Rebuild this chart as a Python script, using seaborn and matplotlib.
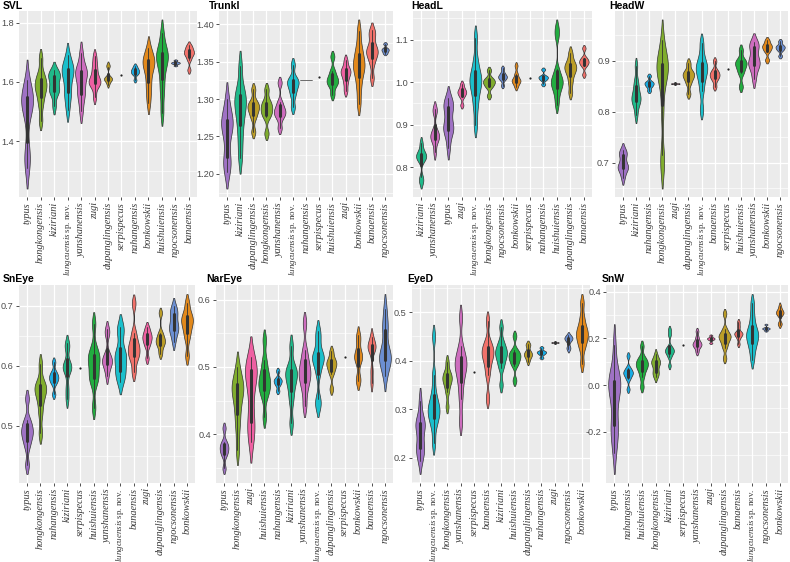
import numpy as np
import pandas as pd
import seaborn as sns
import matplotlib.pyplot as plt
from matplotlib.ticker import FixedLocator

# species colours (one per species, same in every panel)
colors = {
    'banaensis': '#F2726B', 'bonkowskii': '#E2891C', 'dupanglingensis': '#BC9E28',
    'hongkongensis': '#80AD2E', 'huishuiensis': '#22AD40', 'kiziriani': '#20B98A',
    'lungcuensis sp. nov.': '#1BBFCB', 'nahangensis': '#19AEE6', 'ngocsonensis': '#6C8FD2',
    'serpispecus': '#9E8BE0', 'typus': '#9F72C4', 'yanshanensis': '#CD6DBE', 'zugi': '#EE60A2',
}

# measurements per trait, species in the plotted order
svl = {
    'typus': [1.31, 1.345, 1.365, 1.49, 1.52, 1.53, 1.54, 1.55, 1.56, 1.605],
    'hongkongensis': [1.468, 1.52, 1.55, 1.57, 1.585, 1.595, 1.61, 1.63, 1.68],
    'kiziriani': [1.518, 1.565, 1.57, 1.58, 1.61, 1.62, 1.625, 1.64],
    'lungcuensis sp. nov.': [1.506, 1.55, 1.565, 1.60, 1.625, 1.64, 1.645, 1.655, 1.691],
    'yanshanensis': [1.50, 1.55, 1.56, 1.59, 1.62, 1.63, 1.635, 1.65, 1.697],
    'zugi': [1.548, 1.585, 1.595, 1.60, 1.605, 1.62, 1.64, 1.66, 1.687],
    'dupanglingensis': [1.591, 1.603, 1.607, 1.61, 1.613, 1.618, 1.65, 1.658],
    'serpispecus': [1.624],
    'nahangensis': [1.606, 1.625, 1.63, 1.635, 1.64, 1.645, 1.654],
    'bonkowskii': [1.53, 1.57, 1.60, 1.635, 1.655, 1.665, 1.675, 1.685, 1.715],
    'huishuiensis': [1.496, 1.56, 1.60, 1.64, 1.665, 1.68, 1.69, 1.70, 1.72, 1.766],
    'ngocsonensis': [1.655, 1.661, 1.663, 1.665, 1.667, 1.673],
    'banaensis': [1.64, 1.675, 1.688, 1.695, 1.70, 1.706, 1.715, 1.724],
}
trunkl = {
    'typus': [1.203, 1.215, 1.222, 1.25, 1.262, 1.267, 1.272, 1.28, 1.30],
    'kiziriani': [1.221, 1.245, 1.265, 1.28, 1.29, 1.298, 1.305, 1.315, 1.344],
    'dupanglingensis': [1.256, 1.275, 1.283, 1.288, 1.292, 1.297, 1.313],
    'hongkongensis': [1.254, 1.276, 1.282, 1.287, 1.292, 1.298, 1.313],
    'yanshanensis': [1.261, 1.275, 1.28, 1.284, 1.288, 1.296, 1.322],
    'lungcuensis sp. nov.': [1.289, 1.305, 1.314, 1.32, 1.324, 1.328, 1.346],
    'nahangensis': [1.325, 1.325],
    'serpispecus': [1.329],
    'huishuiensis': [1.306, 1.318, 1.322, 1.326, 1.33, 1.338, 1.357],
    'zugi': [1.311, 1.322, 1.33, 1.335, 1.338, 1.342, 1.352],
    'bonkowskii': [1.294, 1.315, 1.33, 1.34, 1.345, 1.35, 1.36, 1.37, 1.391],
    'banaensis': [1.328, 1.348, 1.358, 1.362, 1.366, 1.372, 1.385, 1.392],
    'ngocsonensis': [1.361, 1.364, 1.366, 1.368, 1.374],
}
headl = {
    'kiziriani': [0.764, 0.776, 0.815, 0.822, 0.826, 0.83, 0.838, 0.857],
    'yanshanensis': [0.835, 0.86, 0.868, 0.873, 0.878, 0.888, 0.93, 0.938],
    'typus': [0.845, 0.88, 0.888, 0.895, 0.905, 0.935, 0.942, 0.95, 0.964],
    'zugi': [0.946, 0.965, 0.972, 0.976, 0.98, 0.986, 0.996],
    'lungcuensis sp. nov.': [0.899, 0.94, 0.965, 0.985, 0.998, 1.005, 1.015, 1.03, 1.055, 1.105],
    'hongkongensis': [0.968, 0.988, 0.995, 1.0, 1.004, 1.01, 1.028],
    'ngocsonensis': [0.992, 1.005, 1.01, 1.013, 1.016, 1.022, 1.033],
    'bonkowskii': [0.989, 0.998, 1.002, 1.005, 1.01, 1.02, 1.039],
    'serpispecus': [1.01],
    'nahangensis': [0.995, 1.005, 1.009, 1.012, 1.015, 1.03],
    'huishuiensis': [0.947, 0.97, 0.985, 0.995, 1.0, 1.005, 1.015, 1.03, 1.108, 1.128],
    'dupanglingensis': [0.975, 1.0, 1.018, 1.028, 1.035, 1.04, 1.05, 1.069],
    'banaensis': [1.018, 1.038, 1.044, 1.048, 1.052, 1.058, 1.08],
}
headw = {
    'typus': [0.67, 0.685, 0.69, 0.693, 0.697, 0.714, 0.718, 0.725],
    'kiziriani': [0.793, 0.812, 0.82, 0.825, 0.83, 0.838, 0.85, 0.862, 0.89],
    'nahangensis': [0.841, 0.849, 0.853, 0.856, 0.859, 0.87],
    'hongkongensis': [0.69, 0.715, 0.80, 0.855, 0.875, 0.885, 0.89, 0.895, 0.905, 0.94],
    'zugi': [0.8545, 0.855, 0.8555],
    'dupanglingensis': [0.835, 0.855, 0.865, 0.87, 0.875, 0.88, 0.895],
    'lungcuensis sp. nov.': [0.803, 0.84, 0.86, 0.872, 0.882, 0.888, 0.895, 0.91, 0.935],
    'banaensis': [0.849, 0.862, 0.868, 0.872, 0.876, 0.882, 0.899],
    'serpispecus': [0.883],
    'huishuiensis': [0.849, 0.875, 0.885, 0.892, 0.897, 0.902, 0.921],
    'yanshanensis': [0.864, 0.885, 0.893, 0.898, 0.903, 0.925, 0.93, 0.936],
    'bonkowskii': [0.901, 0.918, 0.924, 0.928, 0.932, 0.94],
    'ngocsonensis': [0.909, 0.92, 0.924, 0.927, 0.93, 0.938],
}
sneye = {
    'typus': [0.434, 0.465, 0.478, 0.486, 0.492, 0.50, 0.51, 0.545],
    'hongkongensis': [0.487, 0.52, 0.54, 0.553, 0.56, 0.566, 0.572, 0.602],
    'nahangensis': [0.552, 0.57, 0.576, 0.58, 0.584, 0.59, 0.606],
    'kiziriani': [0.544, 0.563, 0.59, 0.596, 0.60, 0.604, 0.63, 0.637],
    'serpispecus': [0.596],
    'huishuiensis': [0.53, 0.572, 0.58, 0.59, 0.605, 0.612, 0.617, 0.63, 0.67],
    'yanshanensis': [0.583, 0.598, 0.604, 0.608, 0.612, 0.62, 0.652, 0.661],
    'lungcuensis sp. nov.': [0.573, 0.588, 0.592, 0.612, 0.618, 0.622, 0.655, 0.665],
    'banaensis': [0.589, 0.61, 0.618, 0.625, 0.632, 0.64, 0.655, 0.704],
    'zugi': [0.612, 0.632, 0.64, 0.645, 0.65, 0.655, 0.664],
    'dupanglingensis': [0.62, 0.632, 0.638, 0.642, 0.647, 0.655, 0.688],
    'ngocsonensis': [0.64, 0.655, 0.66, 0.665, 0.672, 0.685, 0.69, 0.699],
    'bonkowskii': [0.616, 0.645, 0.658, 0.668, 0.675, 0.68, 0.688, 0.705],
}
nareye = {
    'typus': [0.349, 0.368, 0.374, 0.379, 0.383, 0.389, 0.409],
    'hongkongensis': [0.377, 0.41, 0.43, 0.448, 0.46, 0.468, 0.474, 0.48, 0.50],
    'zugi': [0.389, 0.41, 0.418, 0.45, 0.478, 0.488, 0.495, 0.50, 0.514],
    'huishuiensis': [0.425, 0.455, 0.465, 0.472, 0.478, 0.485, 0.495, 0.51, 0.54],
    'nahangensis': [0.464, 0.473, 0.477, 0.48, 0.483, 0.494],
    'kiziriani': [0.416, 0.45, 0.468, 0.48, 0.488, 0.494, 0.50, 0.531],
    'yanshanensis': [0.442, 0.465, 0.478, 0.486, 0.492, 0.50, 0.51, 0.525, 0.565],
    'lungcuensis sp. nov.': [0.441, 0.452, 0.49, 0.505, 0.512, 0.516, 0.52, 0.54, 0.554],
    'dupanglingensis': [0.467, 0.49, 0.498, 0.503, 0.507, 0.512, 0.523],
    'serpispecus': [0.514],
    'bonkowskii': [0.479, 0.482, 0.508, 0.513, 0.517, 0.522, 0.54, 0.547],
    'banaensis': [0.476, 0.495, 0.524, 0.528, 0.531, 0.534, 0.545],
    'ngocsonensis': [0.486, 0.505, 0.51, 0.514, 0.518, 0.525, 0.555, 0.562, 0.586],
}
eyed = {
    'typus': [0.193, 0.212, 0.22, 0.228, 0.258, 0.266, 0.272, 0.278, 0.317],
    'lungcuensis sp. nov.': [0.23, 0.265, 0.28, 0.29, 0.298, 0.305, 0.315, 0.335, 0.37, 0.45],
    'hongkongensis': [0.305, 0.335, 0.35, 0.358, 0.364, 0.37, 0.378, 0.398],
    'yanshanensis': [0.273, 0.32, 0.35, 0.37, 0.385, 0.392, 0.40, 0.41, 0.43, 0.489],
    'serpispecus': [0.377],
    'banaensis': [0.322, 0.37, 0.39, 0.405, 0.413, 0.42, 0.428, 0.44, 0.482],
    'kiziriani': [0.35, 0.385, 0.398, 0.408, 0.415, 0.42, 0.428, 0.44, 0.47],
    'huishuiensis': [0.359, 0.39, 0.398, 0.405, 0.41, 0.415, 0.422, 0.451],
    'dupanglingensis': [0.398, 0.406, 0.41, 0.413, 0.416, 0.42, 0.432, 0.434],
    'nahangensis': [0.406, 0.413, 0.416, 0.418, 0.42, 0.427],
    'zugi': [0.4372, 0.4375, 0.4378],
    'ngocsonensis': [0.424, 0.428, 0.441, 0.444, 0.446, 0.449, 0.452],
    'bonkowskii': [0.394, 0.425, 0.438, 0.448, 0.455, 0.462, 0.472, 0.49, 0.52],
}
snw = {
    'typus': [-0.29, -0.21, -0.185, -0.16, -0.06, -0.02, 0.0, 0.01, 0.025, 0.05, 0.17],
    'nahangensis': [-0.018, 0.025, 0.04, 0.048, 0.055, 0.062, 0.075, 0.125],
    'huishuiensis': [-0.008, 0.035, 0.06, 0.075, 0.085, 0.095, 0.105, 0.12, 0.167],
    'hongkongensis': [0.035, 0.05, 0.06, 0.085, 0.095, 0.10, 0.108, 0.131],
    'kiziriani': [0.083, 0.12, 0.135, 0.142, 0.148, 0.155, 0.165, 0.215, 0.238],
    'serpispecus': [0.172],
    'yanshanensis': [0.141, 0.16, 0.168, 0.174, 0.18, 0.188, 0.205, 0.231],
    'zugi': [0.18, 0.193, 0.197, 0.20, 0.203, 0.212],
    'dupanglingensis': [0.114, 0.16, 0.18, 0.195, 0.205, 0.212, 0.22, 0.24, 0.305],
    'banaensis': [0.175, 0.20, 0.212, 0.218, 0.222, 0.228, 0.25, 0.27],
    'lungcuensis sp. nov.': [0.108, 0.15, 0.175, 0.195, 0.21, 0.22, 0.235, 0.26, 0.30, 0.352],
    'ngocsonensis': [0.232, 0.238, 0.241, 0.243, 0.246, 0.259],
    'bonkowskii': [0.259, 0.265, 0.298, 0.305, 0.31, 0.315, 0.322, 0.339],
}

traits = ['SVL', 'Trunkl', 'HeadL', 'HeadW', 'SnEye', 'NarEye', 'EyeD', 'SnW']
trait_data = [svl, trunkl, headl, headw, sneye, nareye, eyed, snw]
yticks = [
    ['1.4', '1.6', '1.8'],
    ['1.20', '1.25', '1.30', '1.35', '1.40'],
    ['0.8', '0.9', '1.0', '1.1'],
    ['0.7', '0.8', '0.9'],
    ['0.5', '0.6', '0.7'],
    ['0.4', '0.5', '0.6'],
    ['0.2', '0.3', '0.4', '0.5'],
    ['-0.2', '0.0', '0.2', '0.4'],
]

# narrower violins (fraction of the category slot)
widths = {
    ('SVL', 'dupanglingensis'): 0.6, ('SVL', 'nahangensis'): 0.6,
    ('SVL', 'ngocsonensis'): 0.65, ('SVL', 'banaensis'): 0.75,
    ('Trunkl', 'ngocsonensis'): 0.55, ('Trunkl', 'zugi'): 0.75,
    ('HeadL', 'zugi'): 0.65, ('HeadL', 'ngocsonensis'): 0.65, ('HeadL', 'bonkowskii'): 0.65,
    ('HeadL', 'nahangensis'): 0.7, ('HeadL', 'banaensis'): 0.7, ('HeadL', 'kiziriani'): 0.75,
    ('HeadL', 'yanshanensis'): 0.65, ('HeadL', 'typus'): 0.75,
    ('HeadW', 'typus'): 0.8, ('HeadW', 'nahangensis'): 0.7, ('HeadW', 'zugi'): 0.65,
    ('HeadW', 'banaensis'): 0.75, ('HeadW', 'ngocsonensis'): 0.7, ('HeadW', 'bonkowskii'): 0.75,
    ('HeadW', 'kiziriani'): 0.7,
    ('SnEye', 'nahangensis'): 0.7, ('SnEye', 'kiziriani'): 0.65, ('SnEye', 'zugi'): 0.7,
    ('SnEye', 'dupanglingensis'): 0.7, ('SnEye', 'ngocsonensis'): 0.7, ('SnEye', 'yanshanensis'): 0.75,
    ('NarEye', 'typus'): 0.65, ('NarEye', 'nahangensis'): 0.6, ('NarEye', 'dupanglingensis'): 0.75,
    ('NarEye', 'bonkowskii'): 0.6, ('NarEye', 'banaensis'): 0.6,
    ('EyeD', 'typus'): 0.7, ('EyeD', 'dupanglingensis'): 0.6, ('EyeD', 'nahangensis'): 0.7,
    ('EyeD', 'zugi'): 0.55, ('EyeD', 'ngocsonensis'): 0.6, ('EyeD', 'hongkongensis'): 0.7,
    ('SnW', 'nahangensis'): 0.7, ('SnW', 'hongkongensis'): 0.65, ('SnW', 'kiziriani'): 0.65,
    ('SnW', 'yanshanensis'): 0.65, ('SnW', 'zugi'): 0.55, ('SnW', 'banaensis'): 0.6,
    ('SnW', 'ngocsonensis'): 0.55, ('SnW', 'bonkowskii'): 0.55,
}


def nrd0(kde):
    # R's bw.nrd0 rule, as a factor of the sample sd
    x = kde.dataset[0]
    sd = np.std(x, ddof=1)
    if sd == 0:
        return 1.0
    q75, q25 = np.percentile(x, [75, 25])
    lo = min(sd, (q75 - q25) / 1.34)
    if lo == 0:
        lo = sd
    return 0.9 * lo * len(x) ** -0.2 / sd


sns.set_theme(style='white')
plt.rcParams['font.family'] = ['Liberation Sans', 'DejaVu Sans']
plt.rcParams['mathtext.fontset'] = 'custom'
plt.rcParams['mathtext.it'] = 'Liberation Serif:italic'
plt.rcParams['mathtext.rm'] = 'Liberation Serif'

W, H = 790, 562
fig = plt.figure(figsize=(7.9, 5.62), dpi=100)

# panel boxes in pixels: left, top, right, bottom
boxes = [
    (19, 11, 197, 197), (219, 11, 393, 197), (413, 11, 592, 197), (615, 11, 788, 197),
    (19, 285, 195, 483), (216, 285, 393, 483), (412, 285, 590, 483), (606, 285, 788, 483),
]
title_pos = [(3, 9), (209, 9), (411, 9), (609, 9), (3, 282), (206, 282), (407, 282), (602, 282)]

for k, (name, data) in enumerate(zip(traits, trait_data)):
    l, t, r, b = boxes[k]
    ax = fig.add_axes([l / W, 1 - b / H, (r - l) / W, (b - t) / H])
    order = list(data.keys())
    df = pd.DataFrame([(sp, v) for sp in order for v in data[sp]], columns=['species', 'value'])

    for sp in order:
        sub = df[df.species == sp]
        if len(sub) == 1:
            sns.stripplot(data=sub, x='species', y='value', order=order, color='#222222',
                          size=1.6, jitter=False, linewidth=0, ax=ax)
        else:
            sns.violinplot(data=sub, x='species', y='value', order=order, color=colors[sp],
                           saturation=1, width=widths.get((name, sp), 0.88),
                           density_norm='width', cut=1.5, bw_method=nrd0, bw_adjust=0.8,
                           inner='box', inner_kws=dict(box_width=2.2, whis_width=0.6, marker=''),
                           linewidth=0.5, linecolor='#333333', ax=ax)

    # axes styling (ggplot grey look)
    ax.set_facecolor('#EBEBEB')
    for s in ax.spines.values():
        s.set_visible(False)
    y0, y1 = ax.dataLim.intervaly
    pad = 0.05 * (y1 - y0)
    ax.set_ylim(y0 - pad, y1 + pad)
    ax.set_xlim(-0.6, len(order) - 0.4)

    major = [float(v) for v in yticks[k]]
    step = major[1] - major[0]
    minor = np.arange(major[0] - step / 2, major[-1] + step, step)
    ax.yaxis.set_major_locator(FixedLocator(major))
    ax.yaxis.set_minor_locator(FixedLocator(minor))
    ax.set_yticklabels(yticks[k])
    ax.set_xticks(range(len(order)))
    labels = [r'$\mathit{lungcuensis}\,\mathrm{sp.\,nov.}$' if sp == 'lungcuensis sp. nov.' else sp
              for sp in order]
    ax.set_xticklabels(labels, rotation=90, fontfamily='Liberation Serif', fontsize=7.4,
                       color='#3A3A3A')
    for lbl, sp in zip(ax.get_xticklabels(), order):
        if sp == 'lungcuensis sp. nov.':
            lbl.set_fontstyle('normal')
            lbl.set_fontsize(6.5)
        else:
            lbl.set_fontstyle('italic')

    ax.grid(True, which='major', color='white', linewidth=0.9)
    ax.grid(True, which='minor', axis='y', color='white', linewidth=0.45)
    ax.set_axisbelow(True)
    ax.tick_params(axis='both', which='major', length=2.2, width=0.6, color='#333333',
                   pad=1.5, bottom=True, left=True)
    ax.tick_params(axis='y', which='major', labelsize=6.6, labelcolor='#4D4D4D')
    ax.tick_params(which='minor', length=0)
    ax.set_xlabel('')
    ax.set_ylabel('')

    tx, ty = title_pos[k]
    fig.text(tx / W, 1 - ty / H, name, fontsize=7.5, fontweight='bold', color='black',
             ha='left', va='baseline')

fig.savefig('out.png', dpi=100)
